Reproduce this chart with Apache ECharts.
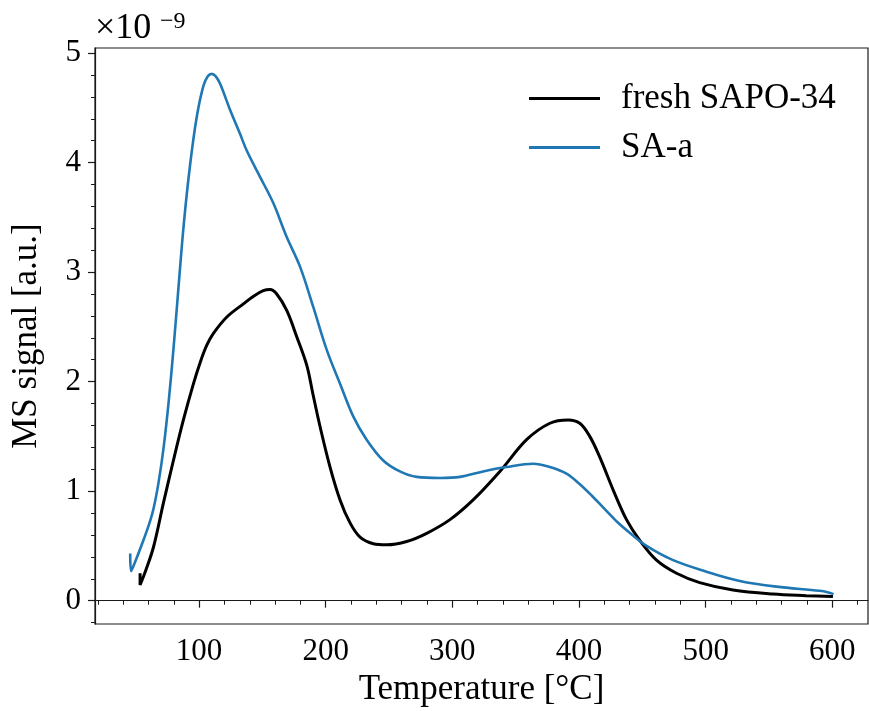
<!DOCTYPE html>
<html>
<head>
<meta charset="utf-8">
<script src="https://cdn.jsdelivr.net/npm/echarts@6/dist/echarts.min.js"></script>
<style>
    html, body { margin: 0; padding: 0; background: #fff; }
    #main { width: 869px; height: 711px; }
</style>
</head>
<body>
<div id="main"></div>
<script>
// 数据 (单位 1e-9)
const freshTemp = [53.4, 53.4, 58, 64, 71.8, 79.7, 87.6, 95.5, 101, 106, 111.3, 121.9, 135, 143, 150.7, 156, 161.3, 169.2, 177.1, 185, 190, 195.5, 203.4, 211.3, 219.2, 227.1, 237.6, 248.1, 263.9, 279.7, 298.1, 316.4, 337.5, 358.6, 377, 391.4, 400.6, 408.5, 416.4, 427, 437.5, 448, 461.2, 477, 495.3, 521.6, 553.2, 579.5, 600.5]
const freshSignal = [0.25, 0.143, 0.28, 0.49, 0.89, 1.28, 1.65, 1.98, 2.18, 2.33, 2.44, 2.59, 2.71, 2.78, 2.83, 2.84, 2.80, 2.65, 2.41, 2.15, 1.88, 1.59, 1.22, 0.92, 0.71, 0.58, 0.52, 0.51, 0.54, 0.615, 0.74, 0.92, 1.18, 1.47, 1.62, 1.65, 1.62, 1.50, 1.31, 1.01, 0.74, 0.55, 0.37, 0.25, 0.165, 0.098, 0.061, 0.046, 0.037]

const saTemp = [45.6, 46.3, 50, 55, 60, 64, 68, 72, 76, 80, 84, 88, 92.9, 98.2, 103.4, 107, 110, 113, 116.6, 124.5, 132.4, 137.6, 148.1, 158.6, 169.2, 179.7, 190.2, 200.8, 211.3, 221.8, 232.3, 245.4, 258.6, 271.8, 290.2, 306, 324.3, 342.8, 363.8, 377, 390.1, 400, 410, 420, 430, 440, 453.3, 474.3, 500.6, 526.9, 555.9, 590, 597, 601]
const saSignal = [0.43, 0.27, 0.37, 0.52, 0.68, 0.84, 1.08, 1.40, 1.82, 2.33, 2.90, 3.45, 3.98, 4.42, 4.70, 4.79, 4.81, 4.79, 4.72, 4.48, 4.26, 4.11, 3.87, 3.63, 3.32, 3.05, 2.68, 2.29, 1.98, 1.68, 1.47, 1.28, 1.18, 1.13, 1.12, 1.13, 1.18, 1.22, 1.25, 1.22, 1.16, 1.07, 0.96, 0.84, 0.72, 0.62, 0.50, 0.37, 0.265, 0.18, 0.128, 0.09, 0.075, 0.06]

const xMajor = [100, 200, 300, 400, 500, 600]
const xMinor = [20, 40, 60, 80, 120, 140, 160, 180, 220, 240, 260, 280, 320, 340, 360, 380, 420, 440, 460, 480, 520, 540, 560, 580, 620]
const yMajor = [0, 1, 2, 3, 4, 5]
const yMinor = [-0.2, 0.2, 0.4, 0.6, 0.8, 1.2, 1.4, 1.6, 1.8, 2.2, 2.4, 2.6, 2.8, 3.2, 3.4, 3.6, 3.8, 4.2, 4.4, 4.6, 4.8]

const font = 'Liberation Serif'
const xMin = 17.8
const xMax = 628.2
const yMin = -0.213
const yMax = 5.046

const pairs = (xs, ys) => xs.map((x, i) => [x, ys[i]])

let element = document.querySelector('#main')
let myChart = echarts.init(element)

const majorAxis = (min, max, ticks) => {
    return {
        type: 'value',
        min: min,
        max: max,
        splitLine: {show: false},
        axisLine: {show: true, lineStyle: {color: '#1a1a1a', width: 1.2}},
        axisTick: {show: true, length: 7, customValues: ticks, lineStyle: {color: '#1a1a1a', width: 1.2}},
        axisLabel: {customValues: ticks, fontFamily: font, fontSize: 31, color: '#000'},
    }
}

const minorAxis = (min, max, ticks) => {
    return {
        type: 'value',
        min: min,
        max: max,
        splitLine: {show: false},
        axisLine: {show: false},
        axisTick: {show: true, length: 4, customValues: ticks, lineStyle: {color: '#1a1a1a', width: 1}},
        axisLabel: {show: false},
    }
}

let xMain = majorAxis(xMin, xMax, xMajor)
xMain.position = 'bottom'
xMain.axisLabel.margin = 12
xMain.name = 'Temperature [°C]'
xMain.nameLocation = 'middle'
xMain.nameGap = 46
xMain.nameTextStyle = {fontFamily: font, fontSize: 35, color: '#000'}

let yMain = majorAxis(yMin, yMax, yMajor)
yMain.position = 'left'
yMain.axisLabel.margin = 14
yMain.name = 'MS signal [a.u.]'
yMain.nameLocation = 'middle'
yMain.nameGap = 51
yMain.nameTextStyle = {fontFamily: font, fontSize: 35, color: '#000'}

let xSub = minorAxis(xMin, xMax, xMinor)
xSub.position = 'bottom'
let ySub = minorAxis(yMin, yMax, yMinor)
ySub.position = 'left'

let option = {
    animation: false,
    backgroundColor: '#fff',
    grid: {
        left: 95, right: 1, top: 48, bottom: 87,
        show: true, borderColor: '#1a1a1a', borderWidth: 1.2,
        outerBoundsMode: 'none',
    },
    xAxis: [xMain, xSub],
    yAxis: [yMain, ySub],
    legend: {
        orient: 'vertical',
        left: 524,
        top: 75,
        itemWidth: 71,
        itemHeight: 3,
        itemGap: 12,
        icon: 'rect',
        textStyle: {fontFamily: font, fontSize: 35, color: '#000', lineHeight: 37, padding: [0, 0, 0, 16]},
        data: ['fresh SAPO-34', 'SA-a'],
    },
    graphic: [
        {type: 'text', left: 95, top: 11, style: {text: '×10', fontFamily: font, fontSize: 36, fill: '#000'}},
        {type: 'text', left: 160, top: 10, style: {text: '−9', fontFamily: font, fontSize: 24, fill: '#000'}},
    ],
    series: [
        {
            name: 'fresh SAPO-34',
            type: 'line',
            showSymbol: false,
            smooth: 0.35,
            data: pairs(freshTemp, freshSignal),
            itemStyle: {color: '#000'},
            lineStyle: {color: '#000', width: 3},
        },
        {
            name: 'SA-a',
            type: 'line',
            showSymbol: false,
            smooth: 0.35,
            data: pairs(saTemp, saSignal),
            itemStyle: {color: '#1f77b4'},
            lineStyle: {color: '#1f77b4', width: 2.6},
        },
    ],
}

myChart.setOption(option)
</script>
</body>
</html>
